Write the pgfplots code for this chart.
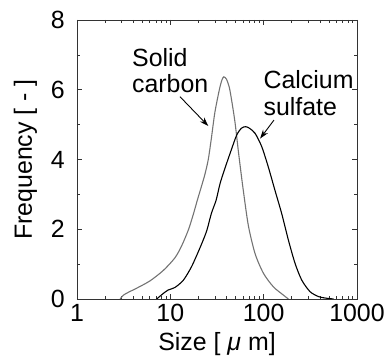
\documentclass[border=0pt]{standalone}
\usepackage{fontspec}
\setmainfont{Liberation Sans}
\usepackage{pgfplots}
\pgfplotsset{compat=1.18}
\usetikzlibrary{arrows.meta}
\newcommand{\chartfont}{\fontsize{25}{30}\selectfont}
\definecolor{carbongray}{gray}{0.45}

\begin{document}
\begin{tikzpicture}
\begin{axis}[
  name=main,
  scale only axis,
  width=280bp, height=279bp,
  xmode=log,
  xmin=1, xmax=1000,
  ymin=0, ymax=8,
  xtick={1,10,100,1000},
  xticklabels={1,10,100,1000},
  ytick={0,2,4,6,8},
  minor y tick num=1,
  tick align=inside,
  major tick length=5bp,
  minor tick length=3bp,
  axis line style={line width=0.9pt, black!80},
  tick style={line width=0.6pt, black!80},
  /pgf/number format/assume math mode=true,
  tick label style={font=\chartfont},
  label style={font=\chartfont},
  xticklabel style={anchor=base, inner sep=0pt, yshift=-23bp},
  yticklabel style={anchor=east, inner sep=0pt, xshift=-12bp},
  xlabel={Size [ \textit{μ} m]},
  ylabel={Frequency [ - ]},
  xlabel style={at={(axis description cs:0.5,0)}, anchor=base, inner sep=0pt, yshift=-52bp},
  ylabel style={at={(axis description cs:-0.161,0.5)}, anchor=base, inner sep=0pt},
]
% solid carbon
\addplot[carbongray, line width=1.1pt, smooth, tension=0.45] coordinates {
  (2.9,0) (3.14,0.11) (3.6,0.2) (4.36,0.31) (6.06,0.52) (8.42,0.82)
  (11.2,1.18) (13.2,1.52) (15.6,1.98) (17.6,2.42) (19.5,2.84) (21.5,3.22)
  (23.5,3.58) (25.5,4.0) (27.5,4.6) (30,5.35) (33.5,6.0) (35.7,6.28)
  (37.5,6.37) (40,6.3) (43,6.05) (46,5.6) (49.4,5.05) (53.5,4.25)
  (57,3.65) (60.6,3.1) (68.6,2.1) (80.9,1.3) (99.3,0.74) (127,0.35)
  (163,0.11) (184,0)
};
% calcium sulfate
\addplot[black, line width=1.1pt, smooth, tension=0.45] coordinates {
  (7.14,0) (8.42,0.16) (9.52,0.26) (11.2,0.33) (13.8,0.54) (16.9,0.93)
  (20.8,1.47) (24.5,1.95) (27.5,2.45) (31,2.84) (34.1,3.31) (38.5,3.75)
  (43.6,4.17) (51.4,4.7) (58,4.9) (64,4.94) (70,4.9) (80.9,4.75)
  (95.3,4.37) (112,3.79) (132,3.12) (156,2.45) (184,1.69) (217,1.02)
  (256,0.54) (314,0.21) (386,0.07) (450,0.03) (514,0.01) (560,0)
};
\node[anchor=base west, inner sep=0, font=\chartfont] at (axis cs:3.88,6.68) {Solid};
\node[anchor=base west, inner sep=0, font=\chartfont] at (axis cs:3.88,5.92) {carbon};
\node[anchor=base west, inner sep=0, font=\chartfont] at (axis cs:99.3,6.04) {Calcium};
\node[anchor=base west, inner sep=0, font=\chartfont] at (axis cs:99.3,5.27) {sulfate};
\draw[-{Stealth[length=9bp,width=6bp]}, line width=0.9pt] (axis cs:12.7,5.8) -- (axis cs:25.5,4.96);
\draw[-{Stealth[length=9bp,width=6bp]}, line width=0.9pt] (axis cs:129,5.13) -- (axis cs:91.5,4.6);
\end{axis}
\path ([xshift=-77bp,yshift=-57bp]main.south west) rectangle ([xshift=29bp,yshift=20bp]main.north east);
\end{tikzpicture}
\end{document}
